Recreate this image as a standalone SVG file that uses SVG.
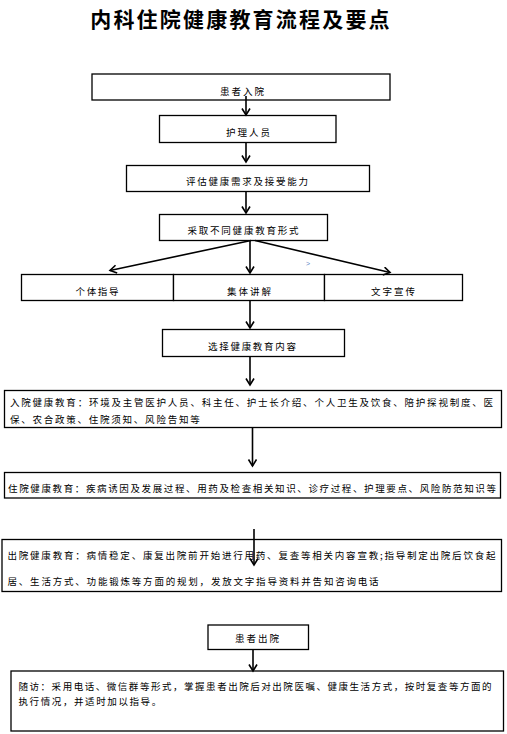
<svg xmlns="http://www.w3.org/2000/svg" width="507" height="734" viewBox="0 0 507 734">
<defs>
<marker id="arr" markerUnits="userSpaceOnUse" markerWidth="12" markerHeight="12" refX="7" refY="4.5" orient="auto">
<path d="M0.5,0.5 L7,4.5 L0.5,8.5" fill="none" stroke="#000" stroke-width="1.6"/>
</marker>
<style>
.box{fill:#fff;stroke:#000;stroke-width:1.3}
.t{font-family:"Noto Sans CJK SC","Noto Sans",sans-serif;font-size:9.5px;fill:#000}
.c{text-anchor:middle}
.ln{stroke:#000;stroke-width:1.6;fill:none;marker-end:url(#arr)}
</style>
</defs>
<rect width="507" height="734" fill="#fff"/>
<text x="241" y="26.5" text-anchor="middle" style="font-family:'Noto Sans CJK SC',sans-serif;font-size:21px;font-weight:bold;letter-spacing:2.2px">内科住院健康教育流程及要点</text>

<g id="n1"><rect class="box" x="92" y="74" width="298" height="26"/><text class="t c" x="242" y="95" textLength="44" lengthAdjust="spacing">患者入院</text></g>
<g id="n2"><rect class="box" x="159.5" y="115.5" width="176.5" height="27"/><text class="t c" x="248" y="136" textLength="44" lengthAdjust="spacing">护理人员</text></g>
<g id="n3"><rect class="box" x="126.5" y="165.5" width="243" height="26"/><text class="t c" x="247" y="184.5" textLength="122" lengthAdjust="spacing">评估健康需求及接受能力</text></g>
<g id="n4"><rect class="box" x="159.5" y="214.5" width="168" height="26"/><text class="t c" x="243" y="233.5" textLength="111" lengthAdjust="spacing">采取不同健康教育形式</text></g>
<g id="n5"><rect class="box" x="21.5" y="274.5" width="152" height="26"/><text class="t c" x="97" y="294.5" textLength="43" lengthAdjust="spacing">个体指导</text></g>
<g id="n6"><rect class="box" x="173.5" y="274.5" width="151" height="26"/><text class="t c" x="249" y="294.5" textLength="44" lengthAdjust="spacing">集体讲解</text></g>
<g id="n7"><rect class="box" x="324.5" y="274.5" width="138" height="26"/><text class="t c" x="393" y="294.5" textLength="44" lengthAdjust="spacing">文字宣传</text></g>
<g id="n8"><rect class="box" x="162.5" y="329.5" width="182" height="27"/><text class="t c" x="252" y="350" textLength="88" lengthAdjust="spacing">选择健康教育内容</text></g>
<g id="n9"><rect class="box" x="4.5" y="390.5" width="497" height="37"/>
<text class="t" x="10" y="406" textLength="483" lengthAdjust="spacing">入院健康教育：环境及主管医护人员、科主任、护士长介绍、个人卫生及饮食、陪护探视制度、医</text>
<text class="t" x="10" y="422.5" style="letter-spacing:1.76px">保、农合政策、住院须知、风险告知等</text></g>
<g id="n10"><rect class="box" x="4.5" y="472.5" width="496" height="25.5"/>
<text class="t" x="8" y="491.5" textLength="488" lengthAdjust="spacing">住院健康教育：疾病诱因及发展过程、用药及检查相关知识、诊疗过程、护理要点、风险防范知识等</text></g>
<g id="n11"><rect class="box" x="2" y="539.5" width="499.5" height="52"/>
<text class="t" x="7.5" y="558.5" textLength="488" lengthAdjust="spacing">出院健康教育：病情稳定、康复出院前开始进行用药、复查等相关内容宣教;指导制定出院后饮食起</text>
<text class="t" x="7.5" y="585" style="letter-spacing:1.8px">居、生活方式、功能锻炼等方面的规划，发放文字指导资料并告知咨询电话</text></g>
<g id="n12"><rect class="box" x="208" y="625" width="100.5" height="24.5"/><text class="t c" x="257" y="641.5" textLength="44" lengthAdjust="spacing">患者出院</text></g>
<g id="n13"><rect class="box" x="11" y="671" width="492.5" height="60"/>
<text class="t" x="18.5" y="690" textLength="473" lengthAdjust="spacing">随访：采用电话、微信群等形式，掌握患者出院后对出院医嘱、健康生活方式，按时复查等方面的</text>
<text class="t" x="18.5" y="705" style="letter-spacing:1.6px">执行情况，并适时加以指导。</text></g>

<g id="connectors">
<line class="ln" x1="246" y1="96" x2="246" y2="115"/>
<line class="ln" x1="246" y1="143" x2="246" y2="162"/>
<line class="ln" x1="246" y1="192" x2="246" y2="213"/>
<line class="ln" x1="251" y1="240.5" x2="110" y2="270.5"/>
<line class="ln" x1="250" y1="240.5" x2="250" y2="273"/>
<line class="ln" x1="255" y1="240.5" x2="390" y2="272.5"/>
<line class="ln" x1="250" y1="300.5" x2="250" y2="328"/>
<line class="ln" x1="250" y1="357" x2="250" y2="385"/>
<line class="ln" x1="252.5" y1="428" x2="252.5" y2="466"/>
<line class="ln" x1="254" y1="529" x2="254" y2="565"/>
<line class="ln" x1="253" y1="649.5" x2="253" y2="671"/>
</g>
<text x="306" y="266" style="font-family:'Liberation Sans',sans-serif;font-size:7px;fill:#5b86c5">&gt;</text>
</svg>
